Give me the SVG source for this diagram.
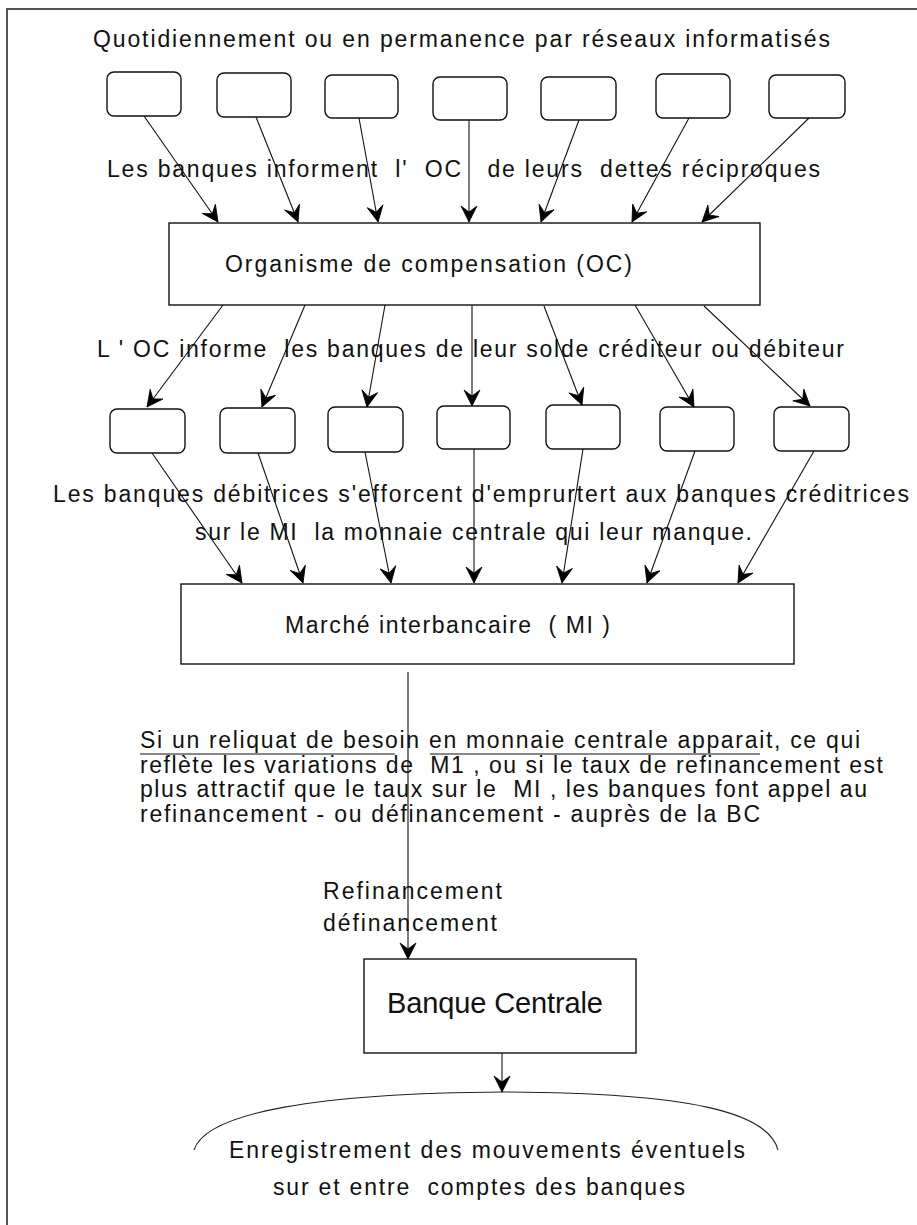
<svg xmlns="http://www.w3.org/2000/svg" width="917" height="1225" viewBox="0 0 917 1225">
  <style>
    text { font-family: "Liberation Sans", Arial, sans-serif; font-size: 23px; fill: #111; white-space: pre; }
    .big { font-size: 29px; }
    .bank { fill: #fff; stroke: #111; stroke-width: 1.4; }
    .box { fill: #fff; stroke: #111; stroke-width: 1.4; }
    .link { fill: none; stroke: #111; stroke-width: 1.1; marker-end: url(#ah); }
    .ul { stroke: #111; stroke-width: 1.2; }
  </style>
  <defs>
    <marker id="ah" viewBox="-18 -10 19 20" markerWidth="19" markerHeight="20" refX="0" refY="0" orient="auto" markerUnits="userSpaceOnUse">
      <path d="M0,0 L-16,-8 L-10,0 L-16,8 Z" fill="#000" stroke="#000" stroke-width="0.8" stroke-linejoin="miter"/>
    </marker>
  </defs>

  <rect x="0" y="0" width="917" height="1225" fill="#fff"/>
  <!-- page frame (left and top edges only fall inside the sheet) -->
  <path d="M7,1225 V9 H917" fill="none" stroke="#555" stroke-width="2"/>

  <text x="93" y="47" textLength="737" lengthAdjust="spacing">Quotidiennement ou en permanence par réseaux informatisés</text>

  <!-- reporting banks -->
  <g id="bank-top-1"><rect class="bank" x="107" y="72" width="74" height="44" rx="7"/></g>
  <g id="bank-top-2"><rect class="bank" x="217" y="73" width="74" height="44" rx="7"/></g>
  <g id="bank-top-3"><rect class="bank" x="325" y="75" width="73" height="43" rx="7"/></g>
  <g id="bank-top-4"><rect class="bank" x="433" y="77" width="74" height="43" rx="7"/></g>
  <g id="bank-top-5"><rect class="bank" x="541" y="77" width="75" height="43" rx="7"/></g>
  <g id="bank-top-6"><rect class="bank" x="656" y="74" width="74" height="44" rx="7"/></g>
  <g id="bank-top-7"><rect class="bank" x="769" y="75" width="76" height="43" rx="7"/></g>

  <!-- clearing house -->
  <g id="oc">
    <rect class="box" x="169" y="223" width="591" height="82"/>
    <text x="225" y="272" textLength="407" lengthAdjust="spacing">Organisme de compensation (OC)</text>
  </g>

  <!-- banks after settlement -->
  <g id="bank-mid-1"><rect class="bank" x="110" y="409" width="75" height="44" rx="7"/></g>
  <g id="bank-mid-2"><rect class="bank" x="220" y="408" width="75" height="45" rx="7"/></g>
  <g id="bank-mid-3"><rect class="bank" x="328" y="407" width="75" height="45" rx="7"/></g>
  <g id="bank-mid-4"><rect class="bank" x="437" y="406" width="73" height="43" rx="7"/></g>
  <g id="bank-mid-5"><rect class="bank" x="546" y="405" width="74" height="44" rx="7"/></g>
  <g id="bank-mid-6"><rect class="bank" x="660" y="407" width="74" height="44" rx="7"/></g>
  <g id="bank-mid-7"><rect class="bank" x="774" y="407" width="75" height="44" rx="7"/></g>

  <!-- interbank market -->
  <g id="mi">
    <rect class="box" x="181" y="584" width="613" height="80"/>
    <text x="285" y="633" textLength="325" lengthAdjust="spacing">Marché interbancaire  ( MI )</text>
  </g>

  <!-- central bank -->
  <g id="bc">
    <rect class="box" x="364" y="959" width="272" height="94"/>
    <text class="big" x="387" y="1013" textLength="216" lengthAdjust="spacing">Banque Centrale</text>
  </g>

  <!-- central bank ledger -->
  <g id="ledger">
    <path d="M194,1150 C206,1112 320,1093 504,1092 C690,1093 768,1112 778,1150" fill="none" stroke="#222" stroke-width="1.1"/>
    <text x="229" y="1158" textLength="516" lengthAdjust="spacing">Enregistrement des mouvements éventuels</text>
    <text x="273" y="1195" textLength="412" lengthAdjust="spacing">sur et entre  comptes des banques</text>
  </g>

  <g id="connectors">
    <line class="link" x1="144" y1="116" x2="218" y2="222"/>
    <line class="link" x1="256" y1="117" x2="298" y2="222"/>
    <line class="link" x1="359" y1="118" x2="378" y2="222"/>
    <line class="link" x1="469" y1="120" x2="469" y2="222"/>
    <line class="link" x1="579" y1="120" x2="541" y2="222"/>
    <line class="link" x1="689" y1="118" x2="632" y2="222"/>
    <line class="link" x1="809" y1="118" x2="702" y2="222"/>

    <line class="link" x1="223" y1="305" x2="147" y2="407"/>
    <line class="link" x1="305" y1="305" x2="262" y2="407"/>
    <line class="link" x1="385" y1="305" x2="367" y2="407"/>
    <line class="link" x1="472" y1="305" x2="472" y2="406"/>
    <line class="link" x1="544" y1="306" x2="582" y2="405"/>
    <line class="link" x1="635" y1="305" x2="694" y2="407"/>
    <line class="link" x1="704" y1="306" x2="810" y2="406"/>

    <line class="link" x1="152" y1="453" x2="242" y2="583"/>
    <line class="link" x1="258" y1="453" x2="303" y2="583"/>
    <line class="link" x1="365" y1="452" x2="391" y2="583"/>
    <line class="link" x1="474" y1="449" x2="474" y2="583"/>
    <line class="link" x1="583" y1="449" x2="562" y2="583"/>
    <line class="link" x1="695" y1="451" x2="647" y2="583"/>
    <line class="link" x1="814" y1="451" x2="738" y2="583"/>

    <line class="link" x1="408" y1="672" x2="408" y2="959"/>
    <line class="link" x1="502" y1="1053" x2="502" y2="1092"/>
  </g>

  <!-- flow labels -->
  <text x="107" y="177" textLength="713" lengthAdjust="spacing">Les banques informent  l'  OC   de leurs  dettes réciproques</text>
  <text x="97" y="357" textLength="747" lengthAdjust="spacing">L ' OC informe  les banques de leur solde créditeur ou débiteur</text>
  <text x="53" y="502" textLength="856" lengthAdjust="spacing">Les banques débitrices s'efforcent d'emprurtert aux banques créditrices</text>
  <text x="195" y="540" textLength="557" lengthAdjust="spacing">sur le MI  la monnaie centrale qui leur manque.</text>

  <text x="140" y="748" textLength="720" lengthAdjust="spacing">Si un reliquat de besoin en monnaie centrale apparait, ce qui</text>
  <line class="ul" x1="140" y1="754" x2="395" y2="754"/>
  <line class="ul" x1="430" y1="754" x2="760" y2="754"/>
  <text x="140" y="773" textLength="743" lengthAdjust="spacing">reflète les variations de  M1 , ou si le taux de refinancement est</text>
  <text x="140" y="797" textLength="727" lengthAdjust="spacing">plus attractif que le taux sur le  MI , les banques font appel au</text>
  <text x="140" y="822" textLength="620" lengthAdjust="spacing">refinancement - ou définancement - auprès de la BC</text>

  <text x="323" y="899" textLength="179" lengthAdjust="spacing">Refinancement</text>
  <text x="323" y="931" textLength="174" lengthAdjust="spacing">définancement</text>
</svg>
